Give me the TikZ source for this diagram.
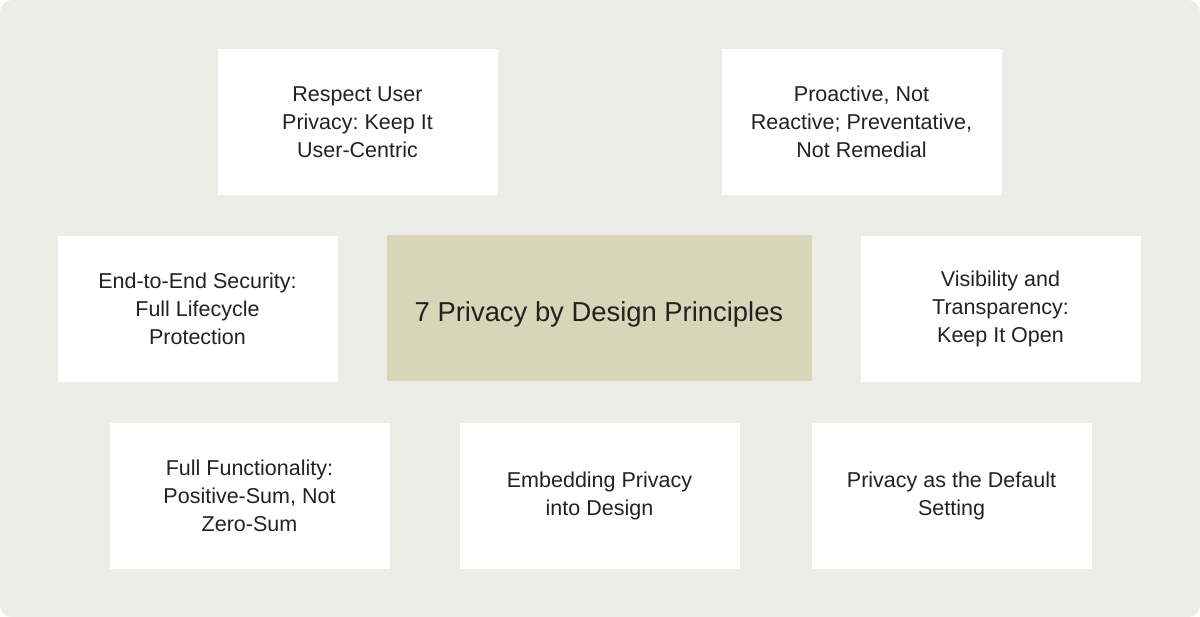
\documentclass[tikz,border=0pt]{standalone}
\usepackage{fontspec}
\setmainfont{Liberation Sans}
\frenchspacing
\usepackage{tikz}
\usetikzlibrary{shapes}
\definecolor{panel}{HTML}{EDEDE8}
\definecolor{khaki}{HTML}{D8D5B9}
\definecolor{ink}{HTML}{222222}
\tikzstyle{principle}=[rectangle,fill=white,minimum width=280pt,minimum height=146pt,inner sep=0pt,align=center,text=ink,font=\fontsize{21.5}{28}\selectfont]
\tikzstyle{hub}=[rectangle,fill=khaki,minimum width=425pt,minimum height=146pt,inner sep=0pt,align=center,text=ink,font=\fontsize{27.4}{30}\selectfont,
  execute at begin node={\rule[-6pt]{0pt}{40pt}}]

\begin{document}
\begin{tikzpicture}[x=1pt,y=-1pt]
          \useasboundingbox (0,0) rectangle (1200,617);
          \fill[white] (0,0) rectangle (1200,617);
          \fill[panel,rounded corners=12pt] (0,0) rectangle (1200,617);
          \node[hub] (core) at (599,308) {7 Privacy by Design Principles};
          \node[principle] (user) at (357.5,122) {Respect User\\Privacy: Keep It\\User-Centric};
          \node[principle] (proactive) at (861.5,122) {Proactive, Not\\Reactive; Preventative,\\Not Remedial};
          \node[principle] (security) at (197.5,309) {End-to-End Security:\\Full Lifecycle\\Protection};
          \node[principle] (visibility) at (1000.5,309) {Visibility and\\Transparency:\\Keep It Open};
          \node[principle] (functionality) at (249.5,496) {Full Functionality:\\Positive-Sum, Not\\Zero-Sum};
          \node[principle] (embedding) at (599.5,496) {Embedding Privacy\\into Design};
          \node[principle] (default) at (951.5,496) {Privacy as the Default\\Setting};
        \end{tikzpicture}
\end{document}
